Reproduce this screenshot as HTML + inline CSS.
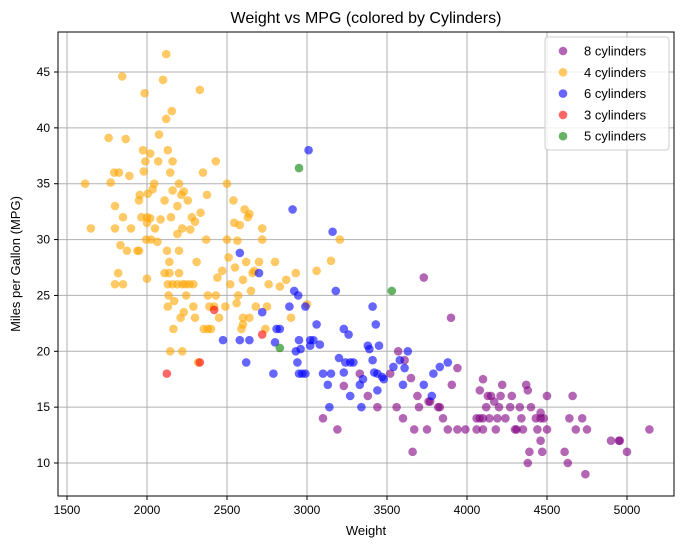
<!DOCTYPE html>
<html><head><meta charset="utf-8"><style>
body{margin:0;background:#fff;font-family:"Liberation Sans",sans-serif;}
svg text{font-family:"Liberation Sans",sans-serif;}
</style></head><body>
<svg id="chart" width="686" height="547" xmlns="http://www.w3.org/2000/svg">
<text x="366" y="23" text-anchor="middle" font-size="16">Weight vs MPG (colored by Cylinders)</text>
<text x="366" y="535" text-anchor="middle" font-size="13">Weight</text>
<text transform="translate(20,264) rotate(-90)" text-anchor="middle" font-size="13">Miles per Gallon (MPG)</text>
<g id="grid"></g>
<g id="ticks"></g>
<g id="points"></g>
<rect x="58" y="32" width="616" height="464" fill="none" stroke="#000" stroke-width="1"/>
<g id="legend"></g>
</svg>
<script>
const xTicks=[1500,2000,2500,3000,3500,4000,4500,5000];
const yTicks=[10,15,20,25,30,35,40,45];
const seriesNames=["8 cylinders","4 cylinders","6 cylinders","3 cylinders","5 cylinders"];
const seriesColors=["#800080","#ffa500","#0000ff","#ff0000","#008000"];
const cyl8=[[3100,14],[3190,13],[3230,16.9],[3330,18],[3380,16],[3440,15],[3520,18],[3570,20],[3600,14],[3610,19.2],[3650,17.6],[3660,11],[3690,16],[3730,26.6],[3750,13],[3760,15.5],[3830,15],[3880,13],[3900,23],[3905,17],[3940,18.5],[3940,13],[3990,13],[4060,14],[4080,16.5],[4100,17.5],[4100,13],[4120,15],[4140,14],[4150,16],[4170,15.5],[4180,13],[4190,14],[4210,16],[4220,17],[4240,14],[4270,15],[4280,16],[4310,13],[4330,15],[4340,14],[4350,13],[4370,17],[4380,16.5],[4380,10],[4390,11],[4400,15],[4430,14],[4440,13],[4460,14],[4460,12],[4470,11],[4480,14],[4500,16],[4500,13],[4610,11],[4630,10],[4640,14],[4660,16],[4680,13],[4720,14],[4740,9],[4750,13],[4950,12],[4955,12],[4900,12],[5140,13],[5000,11],[4080,14],[4100,14],[3770,15.5],[3820,15],[3850,14],[4200,15],[4300,13],[3670,13],[3560,15],[3700,15],[4460,14.5],[4130,16],[4060,13]];
const cyl4=[[1613,35],[1649,31],[1760,39.1],[1773,35.1],[1795,36],[1800,33],[1800,31],[1825,36],[1834,29.5],[1845,44.6],[1850,32],[1850,26],[1867,39],[1875,29],[1890,35.7],[1900,31],[1940,29],[1950,29],[1950,33.5],[1955,34],[1965,32],[1975,38],[1980,36.1],[1985,43.1],[1990,37],[1995,30],[2000,32],[2000,31.5],[2005,34.1],[2020,37.7],[2020,31.9],[2025,30],[2035,34.5],[2045,35],[2050,31],[2065,29.8],[2070,37],[2075,39.4],[2085,31.8],[2100,44.3],[2110,33.5],[2110,27],[2120,40.8],[2120,46.6],[2125,29],[2130,38],[2130,24],[2135,25],[2140,27],[2140,28],[2145,36],[2150,32],[2155,41.5],[2160,37],[2160,34.4],[2165,22],[2170,24.5],[2190,33],[2190,30.5],[2200,35],[2200,29],[2200,27],[2210,23],[2215,34],[2220,31],[2220,26],[2220,20],[2230,34.3],[2230,23.5],[2240,26],[2245,25],[2255,33.5],[2265,26],[2270,30.9],[2280,32],[2290,24],[2290,26],[2300,31.6],[2300,23],[2310,28],[2320,19],[2330,43.4],[2335,32.4],[2350,36],[2370,30],[2375,34],[2380,22],[2380,25],[2390,24],[2400,22],[2420,24],[2430,37],[2430,25],[2440,26.6],[2450,23],[2470,27.2],[2490,24],[2500,35],[2510,28.4],[2520,26],[2540,33.5],[2545,31.5],[2550,27.5],[2560,24.3],[2565,29.9],[2570,25],[2580,31.3],[2590,22],[2600,26.4],[2600,22.4],[2610,32.7],[2620,28],[2630,32],[2640,23],[2640,32.3],[2650,25.4],[2660,27],[2670,27.2],[2680,24],[2700,28],[2720,31],[2720,30],[2740,22],[2750,24],[2760,26],[2800,28],[2830,25.8],[2870,26.4],[2900,23],[2930,27],[3000,24.2],[3060,27.2],[3150,28.1],[3205,30],[2130,26],[2160,26],[2000,26.5],[1800,26],[1820,27],[2145,20],[2190,26],[2355,22],[2500,30],[2600,23]];
const cyl6=[[2475,21],[2580,28.8],[2580,21],[2620,19],[2640,21],[2700,27],[2720,23.5],[2790,18],[2800,20.8],[2810,22],[2830,22],[2890,24],[2910,32.7],[2920,25.4],[2930,20],[2940,19],[2945,25],[2950,18],[2960,20.2],[2970,18],[2990,24],[3010,38],[3020,20.5],[3040,21],[3060,22.4],[3080,20.6],[3100,18],[3130,17],[3140,15],[3150,18],[3160,30.7],[3180,25.4],[3200,19.4],[3230,22],[3240,19],[3260,21.5],[3270,16],[3290,19],[3330,17],[3340,15],[3380,20.5],[3390,20.2],[3410,19.2],[3420,18.1],[3430,22.4],[3440,16.5],[3450,20.5],[3480,17.5],[3540,18.6],[3580,19.2],[3600,17],[3610,18.5],[3630,20],[3730,17],[3780,16],[3790,18],[3830,18.6],[3880,19],[3410,24],[3020,21],[2950,21],[3470,17.7],[3440,18],[3270,19],[3230,18.1],[3350,17.5],[2990,18]];
const cyl3=[[2124,18],[2330,19],[2420,23.7],[2720,21.5]];
const cyl5=[[2830,20.3],[2950,36.4],[3530,25.4]];
const allSeries=[cyl8,cyl4,cyl6,cyl3,cyl5];
const NS="http://www.w3.org/2000/svg";
const xs=v=>67+(v-1500)*0.16;
const ys=v=>72+(45-v)*(391/35);
function mk(t,a,p){const e=document.createElementNS(NS,t);for(const k in a)e.setAttribute(k,a[k]);p.appendChild(e);return e;}
const grid=document.getElementById('grid'),ticks=document.getElementById('ticks');
xTicks.forEach(t=>{const x=xs(t);
 const l=mk('line',{x1:x,x2:x,y1:32,y2:496,stroke:'#b0b0b0','stroke-width':1},grid);
 
 
 mk('line',{x1:x,x2:x,y1:496,y2:500,stroke:'#000'},ticks);
 const tx=mk('text',{x:x,y:514,'text-anchor':'middle','font-size':12},ticks);tx.textContent=t;
 
 });
yTicks.forEach(t=>{const y=ys(t);
 const l=mk('line',{x1:58,x2:674,y1:y,y2:y,stroke:'#b0b0b0','stroke-width':1},grid);
 
 
 mk('line',{x1:54,x2:58,y1:y,y2:y,stroke:'#000'},ticks);
 const tx=mk('text',{x:50,y:y+4,'text-anchor':'end','font-size':12},ticks);tx.textContent=t;
 
 });
const pts=document.getElementById('points');
allSeries.forEach((s,i)=>s.forEach(p=>{
 const c=mk('circle',{cx:xs(p[0]),cy:ys(p[1]),r:4.3,fill:seriesColors[i],'fill-opacity':0.6},pts);
 
 }));
const lg=document.getElementById('legend');
const box=mk('rect',{x:545,y:37,width:124,height:113,rx:3,fill:'#fff','fill-opacity':0.8,stroke:'#ccc'},lg);


seriesNames.forEach((n,i)=>{const y=51+i*21.3;
 const c=mk('circle',{cx:563,cy:y,r:4.3,fill:seriesColors[i],'fill-opacity':0.6},lg);
 
 
 const t=mk('text',{x:584,y:y+4.5,'font-size':13},lg);t.textContent=n;
 
 });
</script>
</body></html>
